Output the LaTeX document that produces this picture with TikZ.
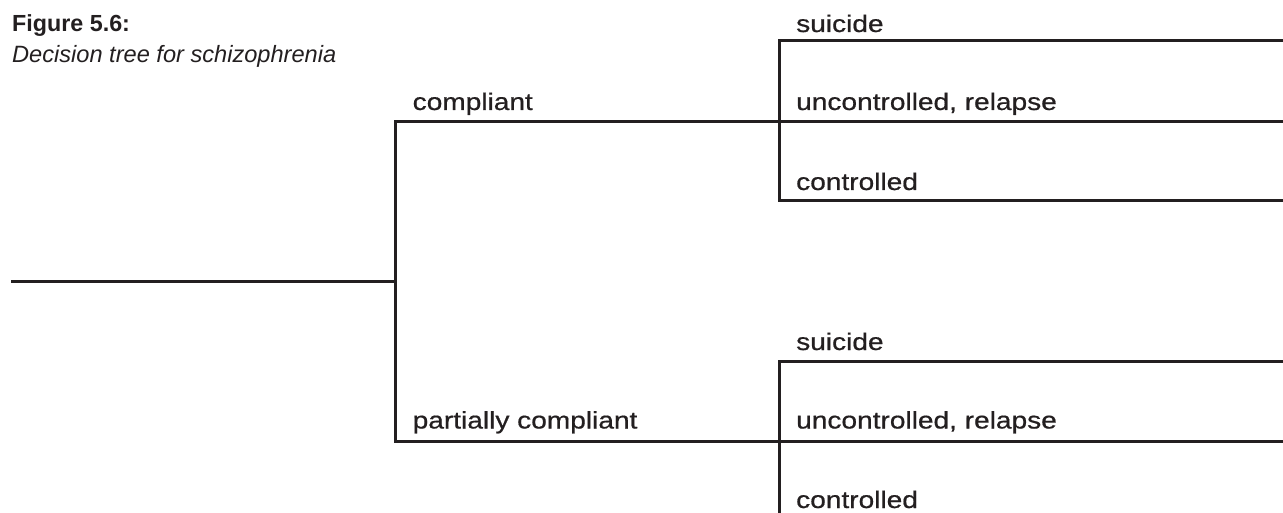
\documentclass[tikz,border=0pt]{standalone}
\usepackage{fontspec}
\setmainfont{Liberation Sans}
\newfontfamily\medfont{Liberation Sans}[FakeBold=0.6]
\usepackage{graphicx}
\definecolor{ink}{HTML}{231F20}
\begin{document}
\begin{tikzpicture}[x=1pt,y=-1pt,
  branch/.style={draw=ink,line width=3pt,line join=miter,line cap=rect},
  lbl/.style={anchor=base west,inner sep=0pt,text=ink,font=\fontsize{24}{28}\medfont},
  ttl/.style={anchor=base west,inner sep=0pt,text=ink,font=\fontsize{23.3}{28}\selectfont\bfseries},
  sub/.style={anchor=base west,inner sep=0pt,text=ink,font=\fontsize{23.6}{28}\selectfont\itshape}]
\useasboundingbox (0,0) rectangle (1283,513);
\clip (0,0) rectangle (1283,513);
% title
\node[ttl] (title) at (12,31.7) {Figure 5.6:};
\node[sub] (subtitle) at (12,63) {Decision tree for schizophrenia};
% junctions
\coordinate (root) at (12,282);
\coordinate (d1) at (395,282);
\coordinate (c1) at (395,122);
\coordinate (c2) at (395,441);
\coordinate (e1) at (779,122);
\coordinate (e2) at (779,441);
\coordinate (t1) at (779,41);
\coordinate (t3) at (779,201);
\coordinate (b1) at (779,361);
\coordinate (b3) at (779,521);
\coordinate (t1r) at (1290,41);
\coordinate (t2r) at (1290,122);
\coordinate (t3r) at (1290,201);
\coordinate (b1r) at (1290,361);
\coordinate (b2r) at (1290,441);
\coordinate (b3r) at (1290,521);
% connectors
\draw[branch] (root) -- (d1);
\draw[branch] (e1) -- (c1) -- (c2) -- (e2);
\draw[branch] (t1r) -- (t1) -- (t3) -- (t3r);
\draw[branch] (e1) -- (t2r);
\draw[branch] (b1r) -- (b1) -- (b3) -- (b3r);
\draw[branch] (e2) -- (b2r);
% labels
\node[lbl] (compl) at (412.5,110) {\scalebox{1.17}[1]{compliant}};
\node[lbl] (pcompl) at (412.5,428.5) {\scalebox{1.17}[1]{partially compliant}};
\node[lbl] (s1) at (796,32) {\scalebox{1.17}[1]{suicide}};
\node[lbl] (u1) at (796,110) {\scalebox{1.17}[1]{uncontrolled, relapse}};
\node[lbl] (k1) at (796,190) {\scalebox{1.17}[1]{controlled}};
\node[lbl] (s2) at (796,350) {\scalebox{1.17}[1]{suicide}};
\node[lbl] (u2) at (796,428.5) {\scalebox{1.17}[1]{uncontrolled, relapse}};
\node[lbl] (k2) at (796,508) {\scalebox{1.17}[1]{controlled}};
\end{tikzpicture}
\end{document}
